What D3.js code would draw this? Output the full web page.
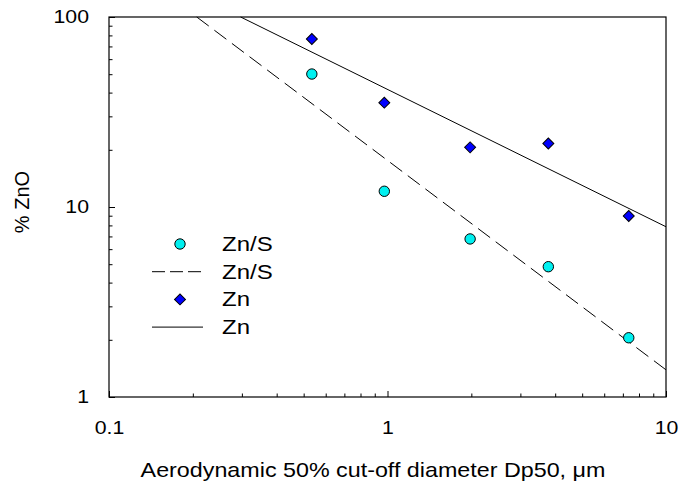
<!DOCTYPE html>
<html>
<head>
<meta charset="utf-8">
<script src="https://cdn.jsdelivr.net/npm/d3@7"></script>
<style>
  body { margin: 0; background: #fff; }
  text { font-family: "Liberation Sans", Arial, sans-serif; fill: #000; }
</style>
</head>
<body>
<svg id="chart"></svg>
<script>
// measured points (diameter in um, % ZnO)
var diam = [0.535, 0.974, 1.98, 3.78, 7.35];
var znsVals = [50.1, 12.1, 6.79, 4.85, 2.05];
var znVals = [76.6, 35.4, 20.6, 21.6, 8.97];

// regression lines, end points
var znsFitX = [0.2066, 10];
var znsFitY = [100, 1.39];
var znFitX = [0.297, 10];
var znFitY = [100, 7.87];

var xTicks = [0.1, 1, 10];
var yTicks = [1, 10, 100];

var legendItems = ["Zn/S", "Zn/S", "Zn", "Zn"];

var W = 683, H = 489;
var margin = { left: 109, right: 17, top: 17, bottom: 92 };
var width = W - margin.left - margin.right,
  height = H - margin.top - margin.bottom;
// the original text is a bit wider than Liberation Sans
var sx = 1.15;

var svg = d3.select("#chart").attr("width", W).attr("height", H);
var g = svg.append("g").attr("transform", `translate(${margin.left},${margin.top})`);

var x = d3.scaleLog().domain([0.1, 10]).range([0, width]);
var y = d3.scaleLog().domain([1, 100]).range([height, 0]);

// minor ticks 2..9 of each decade
function minors(lo, hi) {
  let out = [];
  for (let d = lo; d < hi; d *= 10)
    for (let k = 2; k < 10; k++) out.push(d * k);
  return out;
}

// frame
g.append("rect")
  .attr("width", width)
  .attr("height", height)
  .attr("fill", "none")
  .attr("stroke", "#000")
  .attr("stroke-width", 1.2);

// bottom axis, ticks point inward
var xMinor = g.append("g").attr("transform", `translate(0,${height})`)
  .call(d3.axisBottom(x).tickValues(minors(0.1, 10)).tickSize(-3.5).tickFormat(""));
var xMajor = g.append("g").attr("transform", `translate(0,${height})`)
  .call(d3.axisBottom(x).tickValues(xTicks).tickSize(-6).tickPadding(24).tickFormat(d3.format("")));
var yMinor = g.append("g")
  .call(d3.axisLeft(y).tickValues(minors(1, 100)).tickSize(-3.5).tickFormat(""));
var yMajor = g.append("g")
  .call(d3.axisLeft(y).tickValues(yTicks).tickSize(-6).tickPadding(20).tickFormat(d3.format("")));

[xMinor, xMajor, yMinor, yMajor].forEach((a) => {
  a.select(".domain").remove();
  a.selectAll(".tick line").attr("stroke", "#000").attr("stroke-width", 1);
  a.selectAll("text").style("font-size", "18.5px").attr("font-family", null);
});
xMajor.selectAll("text").attr("transform", `scale(${sx},1)`);
yMajor.selectAll("text").attr("x", -20 / sx).attr("transform", `scale(${sx},1)`);

// fit lines
var line = d3.line().x((d) => x(d[0])).y((d) => y(d[1]));
g.append("path")
  .datum(d3.zip(znsFitX, znsFitY))
  .attr("d", line)
  .attr("fill", "none")
  .attr("stroke", "#000")
  .attr("stroke-width", 1)
  .attr("stroke-dasharray", "15,7");
g.append("path")
  .datum(d3.zip(znFitX, znFitY))
  .attr("d", line)
  .attr("fill", "none")
  .attr("stroke", "#000")
  .attr("stroke-width", 1);

// points
var diamond = d3.symbol().type(d3.symbolSquare).size(60);
g.selectAll(".zns")
  .data(d3.zip(diam, znsVals))
  .enter()
  .append("circle")
  .attr("class", "zns")
  .attr("cx", (d) => x(d[0]))
  .attr("cy", (d) => y(d[1]))
  .attr("r", 5.2)
  .attr("fill", "#00f0f0")
  .attr("stroke", "#000")
  .attr("stroke-width", 1);
g.selectAll(".zn")
  .data(d3.zip(diam, znVals))
  .enter()
  .append("path")
  .attr("class", "zn")
  .attr("d", diamond)
  .attr("transform", (d) => `translate(${x(d[0])},${y(d[1])}) rotate(45)`)
  .attr("fill", "#0000ff")
  .attr("stroke", "#000")
  .attr("stroke-width", 1);

// legend
var leg = svg.append("g").attr("transform", "translate(152,244)");
var rowH = 27.7;
leg.append("circle").attr("cx", 28).attr("cy", 0).attr("r", 5.2)
  .attr("fill", "#00f0f0").attr("stroke", "#000");
leg.append("line").attr("x1", 0).attr("x2", 51).attr("y1", rowH).attr("y2", rowH)
  .attr("stroke", "#000").attr("stroke-dasharray", "13,5");
leg.append("path").attr("d", diamond)
  .attr("transform", `translate(28,${rowH * 2}) rotate(45)`)
  .attr("fill", "#0000ff").attr("stroke", "#000");
leg.append("line").attr("x1", 0).attr("x2", 51).attr("y1", rowH * 3).attr("y2", rowH * 3)
  .attr("stroke", "#000");
leg.selectAll(".lt")
  .data(legendItems)
  .enter()
  .append("text")
  .attr("class", "lt")
  .attr("transform", (d, i) => `translate(70,${i * rowH}) scale(1.2,1)`)
  .attr("dy", "0.35em")
  .style("font-size", "20px")
  .text((d) => d);

// axis titles
svg.append("text")
  .attr("transform", "translate(373,477) scale(1.165,1)")
  .attr("text-anchor", "middle")
  .style("font-size", "20px")
  .text("Aerodynamic 50% cut-off diameter Dp50, \u03bcm");
svg.append("text")
  .attr("transform", "translate(29,202) rotate(-90)")
  .attr("text-anchor", "middle")
  .style("font-size", "20px")
  .text("% ZnO");
</script>
</body>
</html>
